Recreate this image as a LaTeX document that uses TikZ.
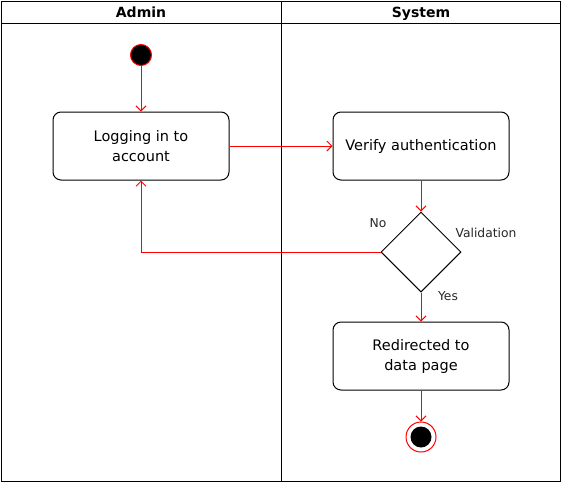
\documentclass[tikz,border=0pt]{standalone}
\usepackage{fontspec}
\setmainfont{DejaVu Sans}
\usetikzlibrary{shapes.geometric,arrows.meta}

\begin{document}
\begin{tikzpicture}[x=1pt,y=-1pt,line width=1pt,
		action/.style={draw,rounded corners=8pt,minimum width=176pt,minimum height=68pt,align=center,inner sep=2pt,font=\fontsize{14.5}{20}\selectfont},
		flow/.style={red,-{Straight Barb[length=5pt,width=10pt]}},
		lane/.style={anchor=base,inner sep=0pt,font=\bfseries\fontsize{14}{16}\selectfont},
		guard/.style={font=\fontsize{12.3}{14}\selectfont,text=black!85}]
		\useasboundingbox (0,0) rectangle (562,483);
		% swimlanes
		\draw (1,1) rectangle (560,481);
		\draw (1,23) -- (560,23);
		\draw (281,1) -- (281,481);
		\node[lane] (admin) at (141,17.5) {Admin};
		\node[lane] (system) at (421,17.5) {System};
		% activities
		\node[circle,draw=red,fill=black,minimum size=21pt,inner sep=0pt] (start) at (141,55) {};
		\node[action] (login) at (141,146) {Logging in to\\account};
		\node[action] (verify) at (421,146) {Verify authentication};
		\node[diamond,draw,minimum width=80pt,minimum height=80pt,inner sep=0pt] (valid) at (421,252) {};
		\node[action] (redirect) at (421,356) {Redirected to\\data page};
		\node[circle,draw=red,minimum size=30pt,inner sep=0pt] (stop) at (421,437) {};
		\node[circle,fill=black,minimum size=21pt,inner sep=0pt] (stopdot) at (stop) {};
		% guards
		\node[guard] (no) at (378,223) {No};
		\node[guard] (validation) at (486,233) {Validation};
		\node[guard] (yes) at (448,296) {Yes};
		% transitions
		\draw[flow] (start) -- (login);
		\draw[flow] (login) -- (verify);
		\draw[flow] (verify) -- (valid);
		\draw[flow] (valid.west) -| (login.south);
		\draw[flow] (valid) -- (redirect);
		\draw[flow] (redirect) -- (stop);
	\end{tikzpicture}
\end{document}
